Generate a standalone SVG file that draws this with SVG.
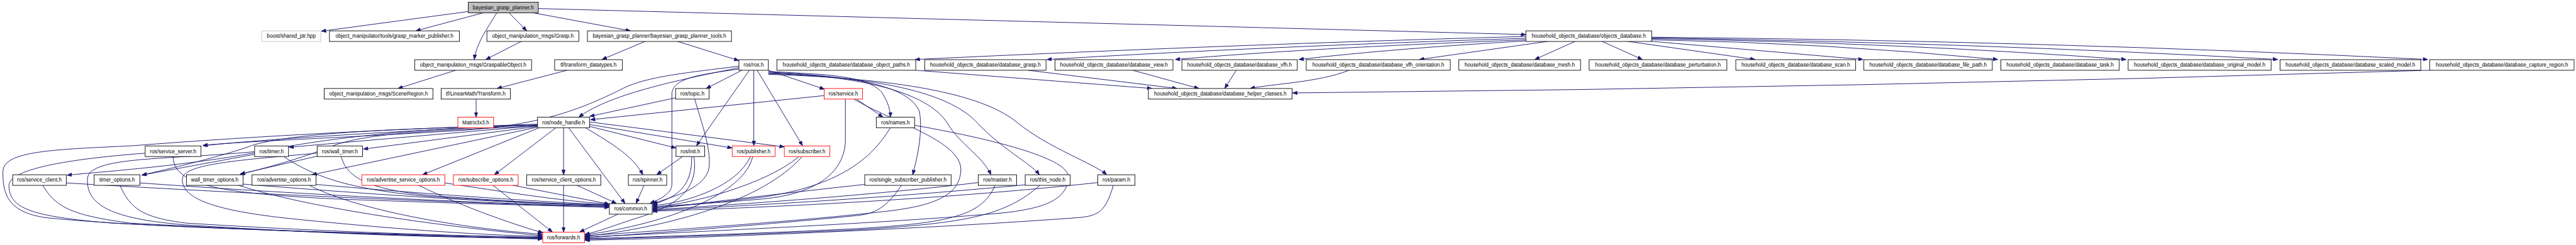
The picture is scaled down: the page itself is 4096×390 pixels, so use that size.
<svg xmlns="http://www.w3.org/2000/svg" width="4096" height="390" viewBox="0 0 4096 390">
<style>
.n rect{fill:#fff;stroke:#000;stroke-width:1.5}
.n.r rect{stroke:#ff0000}
.n.g rect{stroke:#bfbfbf}
.n.root rect{fill:#bfbfbf}
.n text{font-family:"Liberation Sans",Arial,sans-serif;font-size:14px;text-anchor:middle;fill:#000}
#edges path{fill:none;stroke:#191970;stroke-width:1.6;marker-end:url(#a)}
</style>
<defs>
<marker id="a" markerUnits="userSpaceOnUse" markerWidth="13" markerHeight="10" refX="13" refY="5" orient="auto">
<path d="M0,0 L13,5 L0,10 z" fill="#191970" stroke="#191970" stroke-width="1"/>
</marker>
</defs>
<rect width="4096" height="390" fill="#fff"/>
<g transform="scale(0.5919)">
<g id="edges">
<path d="M1258,31 L863,84"/>
<path d="M1300,34 L1117,83"/>
<path d="M1335,34 C1300,90 1280,120 1274,160"/>
<path d="M1367,34 L1415,83"/>
<path d="M1430,34 L1694,83"/>
<path d="M1446,23 L4099,93"/>
<path d="M1401,111 L1305,160"/>
<path d="M1224,189 L1069,238"/>
<path d="M1734,111 L1617,160"/>
<path d="M1819,111 L1985,163"/>
<path d="M1523,189 L1335,238"/>
<path d="M1279,266 L1279,315"/>
<path d="M4099,98 Q3300,120 2458,160"/>
<path d="M4099,103 Q3400,125 2812,160"/>
<path d="M4099,107 Q3500,130 3157,160"/>
<path d="M4099,110 Q3750,130 3489,160"/>
<path d="M4160,111 L3813,160"/>
<path d="M4232,111 L4123,160"/>
<path d="M4303,111 L4412,160"/>
<path d="M4371,111 L4715,160"/>
<path d="M4434,111 L5005,160"/>
<path d="M4437,107 Q4900,115 5367,160"/>
<path d="M4437,104 Q5100,115 5712,160"/>
<path d="M4437,102 Q5300,115 6119,160"/>
<path d="M4437,100 Q5500,110 6522,160"/>
<path d="M2460,189 L3095,238"/>
<path d="M2762,189 L3162,238"/>
<path d="M3043,189 L3221,238"/>
<path d="M3321,189 L3290,238"/>
<path d="M3624,189 C3540,222 3420,225 3358,238"/>
<path d="M6527,189 Q5000,236 3472,250"/>
<path d="M1993,189 L1897,238"/>
<path d="M2064,189 L2215,240"/>
<path d="M1985,182 C1850,210 1640,250 1555,315"/>
<path d="M1985,178 C1850,195 1740,205 1675,237 C1570,290 1460,335 1250,350 C900,372 650,380 545,391"/>
<path d="M1985,186 C1880,200 1810,210 1805,250 L1805,495 C1805,520 1775,535 1746,547"/>
<path d="M2013,189 L1871,392"/>
<path d="M2025,189 L2025,392"/>
<path d="M2034,189 L2156,392"/>
<path d="M2064,192 C2200,200 2330,200 2370,250 C2385,275 2392,295 2392,315"/>
<path d="M2064,194 C2300,205 2440,230 2470,300 C2480,360 2462,430 2452,470"/>
<path d="M2064,196 C2350,205 2500,260 2544,330 C2580,390 2640,420 2662,470"/>
<path d="M2064,198 C2400,208 2560,260 2625,330 C2690,400 2770,440 2792,470"/>
<path d="M2064,200 C2450,212 2650,260 2733,330 C2820,400 2940,440 2973,470"/>
<path d="M2215,257 L1586,322"/>
<path d="M2300,266 L2372,315"/>
<path d="M2271,266 L2271,380 C2268,460 2200,520 2050,535 C1900,548 1800,553 1753,556"/>
<path d="M2293,266 C2400,330 2590,380 2581,462 C2575,530 2500,555 2374,569 C2100,600 1700,625 1572,634"/>
<path d="M1815,263 L1584,313"/>
<path d="M1866,266 C1885,330 1910,400 1905,450 C1895,510 1800,530 1753,548"/>
<path d="M1494,343 L1328,470"/>
<path d="M1514,343 L1514,470"/>
<path d="M1527,343 L1679,547"/>
<path d="M1572,343 C1650,390 1700,420 1727,470"/>
<path d="M1584,340 L1816,398"/>
<path d="M1584,335 L1967,398"/>
<path d="M1584,328 L2107,395"/>
<path d="M1450,343 L1135,470"/>
<path d="M1444,342 L838,470"/>
<path d="M1444,340 L976,401"/>
<path d="M1444,338 L776,396"/>
<path d="M1444,336 C1100,350 700,375 545,392"/>
<path d="M1444,339 C1200,350 1000,355 900,390 C800,430 700,455 645,469"/>
<path d="M1444,337 C1100,345 800,355 680,390 C600,420 450,455 381,471"/>
<path d="M1444,336 C1100,345 850,375 690,410 C500,445 300,460 180,471"/>
<path d="M1444,334 C1100,345 700,365 355,392 C150,402 10,405 8,460 C5,540 40,572 120,585 C400,615 1100,630 1457,640"/>
<path d="M465,421 C465,500 600,520 900,535 C1300,550 1500,553 1636,558"/>
<path d="M390,412 C150,430 22,460 24,500 C26,560 80,582 300,600 C800,625 1200,636 1457,642"/>
<path d="M178,492 C400,505 900,535 1636,557"/>
<path d="M115,498 C150,560 200,580 350,600 C800,625 1200,636 1457,643"/>
<path d="M376,492 C700,515 1200,545 1636,555"/>
<path d="M322,498 C350,560 380,585 500,600 C900,625 1250,635 1457,638"/>
<path d="M653,495 C900,515 1300,545 1636,553"/>
<path d="M640,498 C800,550 1100,600 1457,634"/>
<path d="M849,496 C1100,518 1400,540 1636,551"/>
<path d="M830,498 C950,560 1200,610 1457,630"/>
<path d="M684,415 L381,471"/>
<path d="M762,421 C850,480 950,510 1150,528 C1400,545 1550,550 1636,553"/>
<path d="M684,408 C450,430 240,420 235,480 C230,560 320,590 500,605 C900,630 1200,640 1457,640"/>
<path d="M852,420 L645,468"/>
<path d="M917,421 C930,480 1000,510 1150,525 C1400,545 1550,550 1636,551"/>
<path d="M852,412 C650,430 495,440 490,480 C485,540 600,570 800,590 C1100,620 1300,632 1457,636"/>
<path d="M1195,492 C1350,515 1500,540 1636,549"/>
<path d="M1124,498 C1250,560 1400,610 1459,626"/>
<path d="M1324,498 L1484,624"/>
<path d="M1376,498 L1637,549"/>
<path d="M1514,498 L1514,624"/>
<path d="M1549,498 L1656,547"/>
<path d="M1730,498 L1709,547"/>
<path d="M1660,576 L1557,624"/>
<path d="M1834,421 L1764,470"/>
<path d="M1858,421 C1860,500 1820,530 1753,550"/>
<path d="M1864,421 C1880,520 1800,560 1700,590 C1640,610 1600,625 1571,630"/>
<path d="M2016,421 C1980,500 1850,545 1753,553"/>
<path d="M2022,421 C2000,520 1800,600 1571,632"/>
<path d="M2147,421 C2050,500 1850,550 1753,557"/>
<path d="M2155,421 C2050,540 1800,610 1571,636"/>
<path d="M2392,343 C2340,430 2250,500 2050,530 C1900,548 1800,555 1753,560"/>
<path d="M2457,337 C2700,380 2870,430 2870,475 C2868,540 2800,560 2700,572 C2400,600 1800,626 1571,638"/>
<path d="M2323,496 C2100,520 1900,545 1753,562"/>
<path d="M2422,498 C2380,560 2350,575 2300,580 C2000,610 1700,630 1571,640"/>
<path d="M2628,491 C2300,530 1900,555 1753,564"/>
<path d="M2673,498 C2640,580 2550,600 2300,615 C2000,630 1700,638 1571,642"/>
<path d="M2754,497 C2300,540 1900,558 1753,566"/>
<path d="M2794,498 C2700,580 2600,600 2300,618 C2000,632 1700,640 1571,644"/>
<path d="M2949,491 C2500,540 2000,560 1753,568"/>
<path d="M2991,498 C2970,570 2950,580 2900,585 C2500,615 1900,640 1571,646"/>
</g>
<g id="n0" class="n root"><rect x="1258" y="6" width="188" height="28.5"/><text x="1352" y="25">bayesian_grasp_planner.h</text></g>
<g id="n1" class="n g"><rect x="703" y="83" width="159" height="28.5"/><text x="782.5" y="102">boost/shared_ptr.hpp</text></g>
<g id="n2" class="n"><rect x="885" y="83" width="349" height="28.5"/><text x="1059.5" y="102">object_manipulator/tools/grasp_marker_publisher.h</text></g>
<g id="n3" class="n"><rect x="1308" y="83" width="247" height="28.5"/><text x="1431.5" y="102">object_manipulation_msgs/Grasp.h</text></g>
<g id="n4" class="n"><rect x="1578" y="83" width="387" height="28.5"/><text x="1771.5" y="102">bayesian_grasp_planner/bayesian_grasp_planner_tools.h</text></g>
<g id="n5" class="n"><rect x="4099" y="83" width="338" height="28.5"/><text x="4268" y="102">household_objects_database/objects_database.h</text></g>
<g id="n6" class="n"><rect x="1114" y="160.5" width="314" height="28.5"/><text x="1271" y="179.5">object_manipulation_msgs/GraspableObject.h</text></g>
<g id="n7" class="n"><rect x="1490" y="160.5" width="182" height="28.5"/><text x="1581" y="179.5">tf/transform_datatypes.h</text></g>
<g id="n8" class="n"><rect x="1985" y="160.5" width="79" height="28.5"/><text x="2024.5" y="179.5">ros/ros.h</text></g>
<g id="n9" class="n"><rect x="2087" y="160.5" width="373" height="28.5"/><text x="2273.5" y="179.5">household_objects_database/database_object_paths.h</text></g>
<g id="n10" class="n"><rect x="2484" y="160.5" width="326" height="28.5"/><text x="2647" y="179.5">household_objects_database/database_grasp.h</text></g>
<g id="n11" class="n"><rect x="2834" y="160.5" width="317" height="28.5"/><text x="2992.5" y="179.5">household_objects_database/database_view.h</text></g>
<g id="n12" class="n"><rect x="3175" y="160.5" width="310" height="28.5"/><text x="3330" y="179.5">household_objects_database/database_vfh.h</text></g>
<g id="n13" class="n"><rect x="3509" y="160.5" width="387" height="28.5"/><text x="3702.5" y="179.5">household_objects_database/database_vfh_orientation.h</text></g>
<g id="n14" class="n"><rect x="3919" y="160.5" width="327" height="28.5"/><text x="4082.5" y="179.5">household_objects_database/database_mesh.h</text></g>
<g id="n15" class="n"><rect x="4269" y="160.5" width="370" height="28.5"/><text x="4454" y="179.5">household_objects_database/database_perturbation.h</text></g>
<g id="n16" class="n"><rect x="4663" y="160.5" width="322" height="28.5"/><text x="4824" y="179.5">household_objects_database/database_scan.h</text></g>
<g id="n17" class="n"><rect x="5007" y="160.5" width="345" height="28.5"/><text x="5179.5" y="179.5">household_objects_database/database_file_path.h</text></g>
<g id="n18" class="n"><rect x="5375" y="160.5" width="318" height="28.5"/><text x="5534" y="179.5">household_objects_database/database_task.h</text></g>
<g id="n19" class="n"><rect x="5717" y="160.5" width="384" height="28.5"/><text x="5909" y="179.5">household_objects_database/database_original_model.h</text></g>
<g id="n20" class="n"><rect x="6125" y="160.5" width="378" height="28.5"/><text x="6314" y="179.5">household_objects_database/database_scaled_model.h</text></g>
<g id="n21" class="n"><rect x="6527" y="160.5" width="388" height="28.5"/><text x="6721" y="179.5">household_objects_database/database_capture_region.h</text></g>
<g id="n22" class="n"><rect x="871" y="238" width="292" height="28.5"/><text x="1017" y="257">object_manipulation_msgs/SceneRegion.h</text></g>
<g id="n23" class="n"><rect x="1185" y="238" width="186" height="28.5"/><text x="1278" y="257">tf/LinearMath/Transform.h</text></g>
<g id="n24" class="n"><rect x="1815" y="238" width="90" height="28.5"/><text x="1860" y="257">ros/topic.h</text></g>
<g id="n25" class="n r"><rect x="2214" y="238" width="103" height="28.5"/><text x="2265.5" y="257">ros/service.h</text></g>
<g id="n26" class="n"><rect x="3085" y="238" width="386" height="28.5"/><text x="3278" y="257">household_objects_database/database_helper_classes.h</text></g>
<g id="n27" class="n r"><rect x="1230" y="315" width="96" height="28.5"/><text x="1278" y="334">Matrix3x3.h</text></g>
<g id="n28" class="n"><rect x="1444" y="315" width="140" height="28.5"/><text x="1514" y="334">ros/node_handle.h</text></g>
<g id="n29" class="n"><rect x="2354" y="315" width="103" height="28.5"/><text x="2405.5" y="334">ros/names.h</text></g>
<g id="n30" class="n"><rect x="390" y="392.5" width="150" height="28.5"/><text x="465" y="411.5">ros/service_server.h</text></g>
<g id="n31" class="n"><rect x="684" y="392.5" width="91" height="28.5"/><text x="729.5" y="411.5">ros/timer.h</text></g>
<g id="n32" class="n"><rect x="852" y="392.5" width="122" height="28.5"/><text x="913" y="411.5">ros/wall_timer.h</text></g>
<g id="n33" class="n"><rect x="1816" y="392.5" width="77" height="28.5"/><text x="1854.5" y="411.5">ros/init.h</text></g>
<g id="n34" class="n r"><rect x="1967" y="392.5" width="115" height="28.5"/><text x="2024.5" y="411.5">ros/publisher.h</text></g>
<g id="n35" class="n r"><rect x="2107" y="392.5" width="122" height="28.5"/><text x="2168" y="411.5">ros/subscriber.h</text></g>
<g id="n36" class="n"><rect x="34" y="470" width="144" height="28.5"/><text x="106" y="489">ros/service_client.h</text></g>
<g id="n37" class="n"><rect x="253" y="470" width="123" height="28.5"/><text x="314.5" y="489">timer_options.h</text></g>
<g id="n38" class="n"><rect x="501" y="470" width="152" height="28.5"/><text x="577" y="489">wall_timer_options.h</text></g>
<g id="n39" class="n"><rect x="677" y="470" width="172" height="28.5"/><text x="763" y="489">ros/advertise_options.h</text></g>
<g id="n40" class="n r"><rect x="972" y="470" width="223" height="28.5"/><text x="1083.5" y="489">ros/advertise_service_options.h</text></g>
<g id="n41" class="n r"><rect x="1218" y="470" width="174" height="28.5"/><text x="1305" y="489">ros/subscribe_options.h</text></g>
<g id="n42" class="n"><rect x="1415" y="470" width="199" height="28.5"/><text x="1514.5" y="489">ros/service_client_options.h</text></g>
<g id="n43" class="n"><rect x="1688" y="470" width="103" height="28.5"/><text x="1739.5" y="489">ros/spinner.h</text></g>
<g id="n44" class="n"><rect x="2323" y="470" width="232" height="28.5"/><text x="2439" y="489">ros/single_subscriber_publisher.h</text></g>
<g id="n45" class="n"><rect x="2628" y="470" width="103" height="28.5"/><text x="2679.5" y="489">ros/master.h</text></g>
<g id="n46" class="n"><rect x="2754" y="470" width="121" height="28.5"/><text x="2814.5" y="489">ros/this_node.h</text></g>
<g id="n47" class="n"><rect x="2949" y="470" width="100" height="28.5"/><text x="2999" y="489">ros/param.h</text></g>
<g id="n48" class="n"><rect x="1637" y="547.5" width="115" height="28.5"/><text x="1694.5" y="566.5">ros/common.h</text></g>
<g id="n49" class="n r"><rect x="1458" y="624.5" width="112" height="28.5"/><text x="1514" y="643.5">ros/forwards.h</text></g>
</g>
</svg>
